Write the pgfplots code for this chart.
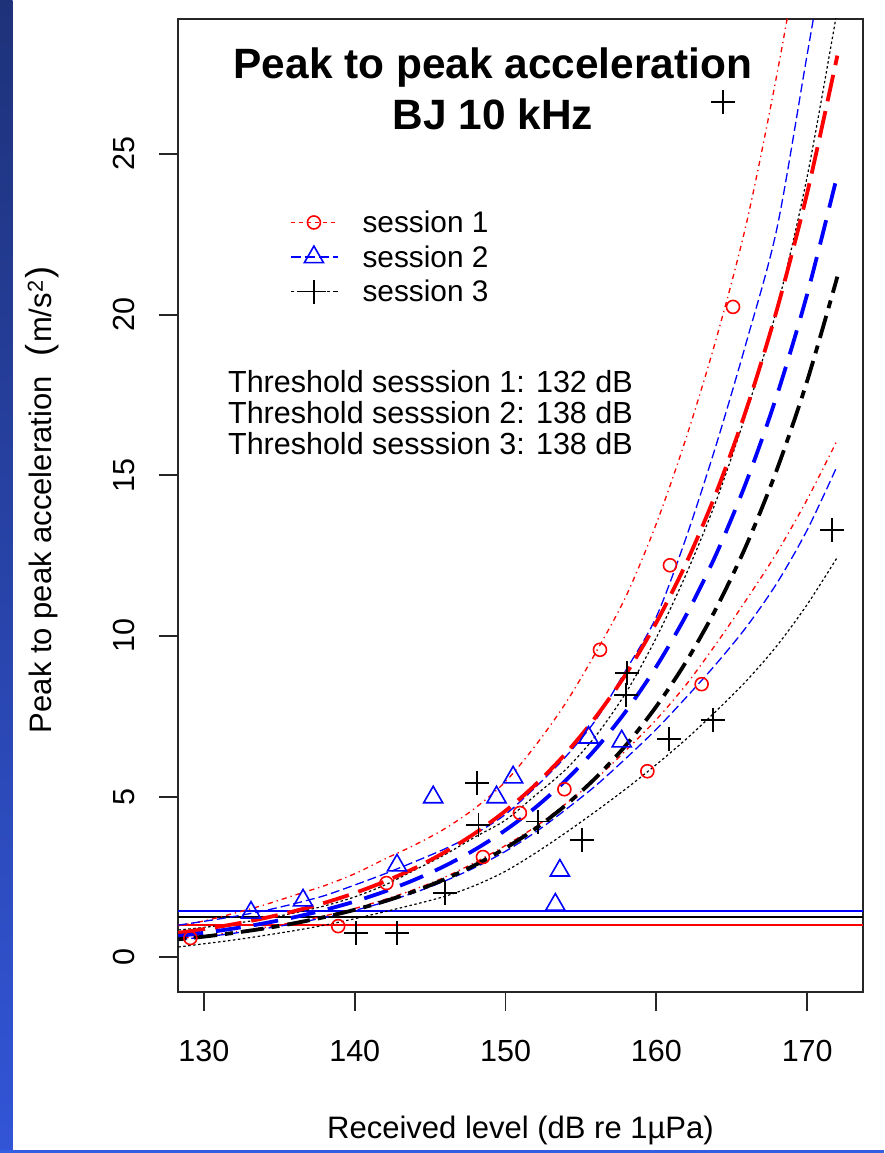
\documentclass[border=0pt]{standalone}
\usepackage{pgfplots}
\pgfplotsset{compat=1.18}
\usepackage{fontspec}
\setmainfont{Liberation Sans}
\newcommand\tickfont{\fontsize{30.5}{36}\selectfont}
\newcommand\labfont{\fontsize{31}{36}\selectfont}
\newcommand\titlefont{\fontsize{42.4}{50}\selectfont\bfseries}
\definecolor{stripTop}{RGB}{30,50,122}
\definecolor{stripBot}{RGB}{50,85,215}
\definecolor{lineBot}{RGB}{50,95,225}
\begin{document}
\begin{tikzpicture}
\fill[white] (0pt,0pt) rectangle (884pt,1153pt);
\shade[top color=stripTop, bottom color=stripBot] (0pt,0pt) rectangle (12.5pt,1153pt);
\fill[lineBot] (0pt,0pt) rectangle (884pt,3pt);
\begin{axis}[
  at={(178pt,161pt)}, anchor=south west,
  scale only axis, width=685pt, height=973pt,
  xmin=128.28, xmax=173.7, ymin=-1.08, ymax=29.2,
  clip mode=individual,
  axis line style={line width=1.8pt, black!85},
  every tick/.style={line width=1.8pt, black!85},
  tick align=outside, major tick length=19pt,
  xtick={130,140,...,170}, ytick={0,5,...,25},
  xtick pos=bottom, ytick pos=left,
  /pgf/number format/assume math mode=true,
  ticklabel style={font=\tickfont},
  xticklabel style={anchor=north, inner sep=0pt},
  yticklabel style={rotate=90, anchor=south, inner sep=0pt},
  xticklabel shift=29pt, yticklabel shift=24pt,
  xlabel={Received level (dB re 1µPa)},
  ylabel={Peak to peak acceleration\hspace{20pt}{\fontsize{36}{36}\selectfont(}\hspace{1.5pt}m/s\textsuperscript{2}\hspace{1.5pt}{\fontsize{36}{36}\selectfont)}},
  label style={font=\labfont},
  xlabel style={at={(axis description cs:0.5,-0.151)}, anchor=base},
  ylabel style={at={(axis description cs:-0.184,0.5057)}, anchor=base},
  legend image code/.code={
    \draw[mark repeat=2,mark phase=2,#1] plot coordinates {(0pt,0pt) (23pt,0pt) (47pt,0pt)};
  },
  legend style={at={(0.1636,0.805)}, anchor=north west, draw=none, fill=none,
    font=\fontsize{29.8}{34}\selectfont, inner sep=0pt, row sep=7.5pt,
    nodes={inner sep=2pt},
    /tikz/every odd column/.append style={column sep=22pt}},
  legend cell align=left,
]
% legend images
\addlegendimage{red, line width=1.3pt, dash pattern=on 4pt off 4pt, mark=o, mark size=6.5pt, mark options={solid, line width=1.6pt}}
\addlegendentry{session 1}
\addlegendimage{blue, line width=1.3pt, dash pattern=on 10pt off 4pt, mark=triangle, mark size=11pt, mark options={solid, line width=1.6pt}}
\addlegendentry{session 2}
\addlegendimage{black, line width=1.3pt, dash pattern=on 3pt off 3pt on 9pt off 3pt, mark=+, mark size=12pt, mark options={solid, line width=1.6pt}}
\addlegendentry{session 3}

% horizontal threshold lines
\addplot[forget plot, blue, line width=1.6pt] coordinates {(128.28,1.44) (173.7,1.44)};
\addplot[forget plot, black, line width=1.6pt] coordinates {(128.28,1.245) (173.7,1.245)};
\addplot[forget plot, red, line width=1.6pt] coordinates {(128.28,0.996) (173.7,0.996)};

% session 1 (red) confidence bounds
\addplot[forget plot, red, line width=1.3pt, dash pattern=on 1.3pt off 4pt on 5.2pt off 4pt, smooth] coordinates {
(128.3,0.98)(130,1.13)(132,1.37)(134,1.63)(136,1.93)(138,2.23)(140,2.6)(142,3.06)(144,3.5)(146,4.01)(148,4.65)(150,5.47)(152,6.6)(154,7.92)(156,9.5)(158,11.25)(160,13.5)(162,16.2)(164,19.3)(166,22.9)(168,27.5)(170,32.8)(172,39.0)};
\addplot[forget plot, red, line width=1.3pt, dash pattern=on 1.3pt off 4pt on 5.2pt off 4pt, smooth] coordinates {
(128.3,0.58)(130,0.67)(132,0.79)(134,0.93)(136,1.09)(138,1.29)(140,1.52)(142,1.8)(144,2.12)(146,2.5)(148,2.96)(150,3.48)(152,4.07)(154,4.78)(156,5.55)(158,6.45)(160,7.4)(162,8.5)(164,9.78)(166,11.15)(168,12.6)(170,14.25)(172,16.1)};
% session 2 (blue) confidence bounds
\addplot[forget plot, blue, line width=1.3pt, dash pattern=on 9pt off 4pt, smooth] coordinates {
(128.3,1.0)(130,1.12)(132,1.27)(134,1.45)(136,1.67)(138,1.92)(140,2.25)(142,2.6)(144,2.98)(146,3.38)(148,3.85)(150,4.45)(152,5.3)(154,6.25)(156,7.4)(158,8.95)(160,10.6)(162,13.1)(164,16.0)(166,19.2)(168,22.7)(170,28.1)(172,33.5)};
\addplot[forget plot, blue, line width=1.3pt, dash pattern=on 9pt off 4pt, smooth] coordinates {
(128.3,0.55)(130,0.63)(132,0.75)(134,0.89)(136,1.05)(138,1.24)(140,1.46)(142,1.72)(144,2.02)(146,2.38)(148,2.8)(150,3.3)(152,3.9)(154,4.6)(156,5.35)(158,6.2)(160,7.1)(162,8.1)(164,9.15)(166,10.3)(168,11.65)(170,13.3)(172,15.3)};
% session 3 (black) confidence bounds
\addplot[forget plot, black, line width=1.2pt, dash pattern=on 2.5pt off 2.5pt, smooth] coordinates {
(128.3,0.85)(130,0.93)(132,1.05)(134,1.2)(136,1.38)(138,1.6)(140,1.88)(142,2.25)(144,2.72)(146,3.2)(148,3.75)(150,4.27)(152,5.05)(154,5.85)(156,6.9)(158,8.25)(160,9.95)(162,11.95)(164,14.25)(166,17.0)(168,20.2)(170,24.3)(172,29.5)};
\addplot[forget plot, black, line width=1.2pt, dash pattern=on 2.5pt off 2.5pt, smooth] coordinates {
(128.3,0.32)(130,0.42)(132,0.54)(134,0.68)(136,0.83)(138,1.0)(140,1.2)(142,1.42)(144,1.65)(146,1.9)(148,2.24)(150,2.68)(152,3.25)(154,3.88)(156,4.55)(158,5.25)(160,6.0)(162,6.8)(164,7.68)(166,8.62)(168,9.7)(170,10.98)(172,12.45)};

% fitted curves
\addplot[forget plot, red, line width=3.8pt, dash pattern=on 27pt off 10pt, smooth] coordinates {
(128.3,0.762)(130,0.876)(132,1.033)(134,1.219)(136,1.437)(138,1.695)(140,2.0)(142,2.36)(144,2.78)(146,3.28)(148,3.87)(150,4.56)(152,5.38)(154,6.35)(156,7.49)(158,8.83)(160,10.42)(162,12.29)(164,14.5)(166,17.1)(168,20.17)(170,23.79)(172,28.06)};
\addplot[forget plot, blue, line width=3.8pt, dash pattern=on 25pt off 13pt, smooth] coordinates {
(128.3,0.662)(130,0.762)(132,0.898)(134,1.059)(136,1.248)(138,1.473)(140,1.737)(142,2.05)(144,2.42)(146,2.85)(148,3.36)(150,3.96)(152,4.67)(154,5.51)(156,6.5)(158,7.67)(160,9.05)(162,10.67)(164,12.58)(166,14.84)(168,17.5)(170,20.64)(172,24.35)};
\addplot[forget plot, black, line width=3.8pt, dash pattern=on 8pt off 8pt on 23pt off 8pt, smooth] coordinates {
(128.3,0.559)(130,0.643)(132,0.76)(134,0.897)(136,1.06)(138,1.252)(140,1.478)(142,1.746)(144,2.062)(146,2.435)(148,2.877)(150,3.398)(152,4.012)(154,4.739)(156,5.597)(158,6.61)(160,7.81)(162,9.22)(164,10.89)(166,12.86)(168,15.19)(170,17.94)(172,21.18)};

% scatter points
\addplot[forget plot, only marks, red, mark=o, mark size=6.5pt, mark options={line width=1.6pt}] coordinates {
(129.1,0.6)(138.9,0.97)(142.1,2.31)(148.5,3.12)(150.95,4.49)(153.9,5.23)(156.26,9.57)(159.4,5.79)(160.9,12.2)(163.0,8.5)(165.08,20.24)};
\addplot[forget plot, only marks, blue, mark=triangle, mark size=11pt, mark options={line width=1.6pt}] coordinates {
(133.12,1.39)(136.57,1.77)(142.8,2.86)(145.2,4.98)(149.4,4.98)(150.5,5.6)(153.3,1.64)(153.6,2.7)(155.5,6.84)(157.7,6.72)};
\addplot[forget plot, only marks, black, mark=+, mark size=12pt, mark options={line width=1.6pt}] coordinates {
(140.1,0.76)(142.8,0.76)(146.0,2.0)(148.1,5.43)(148.2,4.12)(152.15,4.22)(155.07,3.65)(158.05,8.85)(158.0,8.17)(160.84,6.79)(163.75,7.39)(164.42,26.62)(171.64,13.3)};

% title and threshold text
\node[anchor=base, font=\titlefont] at (axis cs:149.16,27.35) {Peak to peak acceleration};
\node[anchor=base, font=\titlefont] at (axis cs:149.16,25.75) {BJ 10 kHz};
\node[anchor=base west, font=\fontsize{30.5}{36}\selectfont, inner sep=0pt] at (axis cs:131.59,17.59) {Threshold sesssion 1: 132 dB};
\node[anchor=base west, font=\fontsize{30.5}{36}\selectfont, inner sep=0pt] at (axis cs:131.59,16.6) {Threshold sesssion 2: 138 dB};
\node[anchor=base west, font=\fontsize{30.5}{36}\selectfont, inner sep=0pt] at (axis cs:131.59,15.64) {Threshold sesssion 3: 138 dB};
\end{axis}
\pgfresetboundingbox
\useasboundingbox (0pt,0pt) rectangle (884pt,1153pt);
\end{tikzpicture}
\end{document}
